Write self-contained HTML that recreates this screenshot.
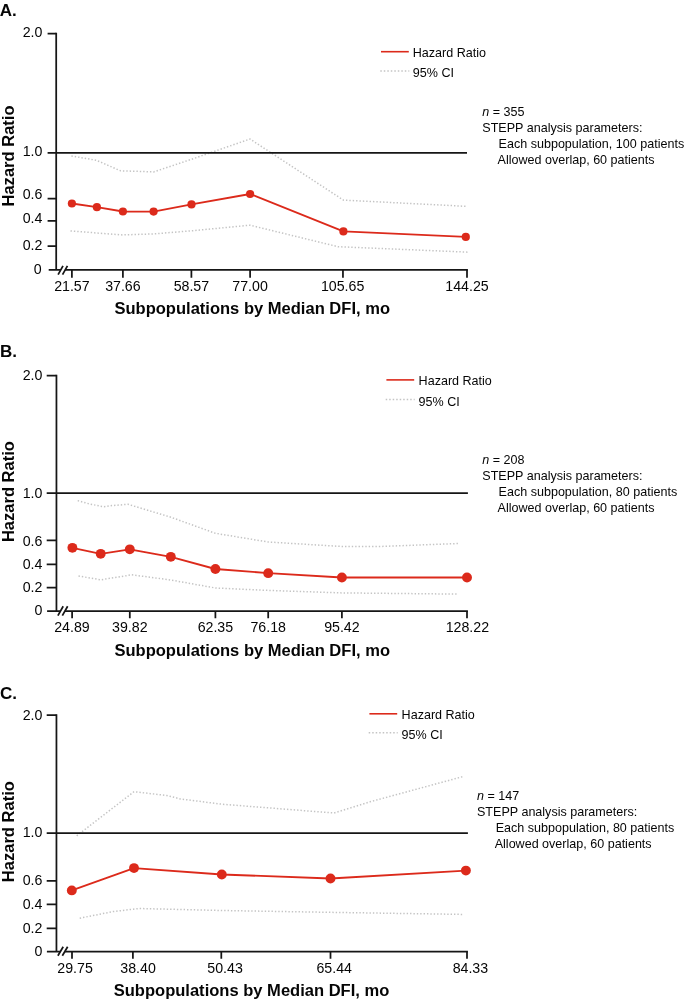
<!DOCTYPE html>
<html lang="en">
<head>
<meta charset="utf-8">
<title>STEPP analysis of hazard ratio by median DFI</title>
<style>
html,body{margin:0;padding:0;background:#fff;}
svg{display:block;will-change:transform;}
text{font-family:'Liberation Sans', Arial, Helvetica, sans-serif;fill:#050505;}
.tk{font-size:14.2px;}
.tx{font-size:12.55px;}
.tt{font-size:16.55px;font-weight:bold;}
.pl{font-size:17px;font-weight:bold;}
.ax{stroke:#161616;stroke-width:1.75;fill:none;}
.hr{stroke:#dc2a1b;stroke-width:1.85;fill:none;stroke-linejoin:round;}
.ci{stroke:#c4c4c4;stroke-width:1.5;fill:none;stroke-dasharray:1.4 1.98;}
.mk{fill:#dc2a1b;}
</style>
</head>
<body>
<svg width="685" height="1002" viewBox="0 0 685 1002">
<rect width="685" height="1002" fill="#fff"/>
<g>
<text class="pl" x="-0.3" y="15.9">A.</text>
<polyline class="ci" points="71.4,156.0 96.2,160.2 120.5,170.8 153.7,171.9 191.8,159.2 250.0,139.0 343.4,200.1 467.5,206.4"/>
<polyline class="ci" points="70.5,230.9 96.9,233.0 122.7,234.9 153.7,233.9 191.8,230.8 250.0,225.2 338.0,246.7 469.0,252.2"/>
<path class="ax" d="M56.2 32.7V269.9M48.7 269.9H467.9M56.2 152.95H467.0"/>
<text class="tk" text-anchor="end" x="42.4" y="37.3">2.0</text>
<text class="tk" text-anchor="end" x="42.4" y="156.2">1.0</text>
<text class="tk" text-anchor="end" x="42.4" y="198.6">0.6</text>
<text class="tk" text-anchor="end" x="42.4" y="222.9">0.4</text>
<text class="tk" text-anchor="end" x="42.4" y="249.9">0.2</text>
<text class="tk" text-anchor="end" x="41.7" y="274.3">0</text>
<path class="ax" d="M47.6 33.6H56.2M47.6 152.95H56.2M47.6 198.55H56.2M47.6 220.9H56.2M47.6 246.0H56.2"/>
<text class="tk" text-anchor="middle" x="71.9" y="290.7">21.57</text>
<text class="tk" text-anchor="middle" x="122.9" y="290.7">37.66</text>
<text class="tk" text-anchor="middle" x="191.4" y="290.7">58.57</text>
<text class="tk" text-anchor="middle" x="250.1" y="290.7">77.00</text>
<text class="tk" text-anchor="middle" x="342.6" y="290.7">105.65</text>
<text class="tk" text-anchor="middle" x="467.0" y="290.7">144.25</text>
<path class="ax" d="M71.9 269.9v7.9M122.9 269.9v7.9M191.4 269.9v7.9M250.1 269.9v7.9M342.95 269.9v7.9M467.0 269.9v7.9"/>
<path fill="#fff" d="M59.5 271.9l2.4 -4.3h4.5l-2.4 4.3z"/>
<path class="ax" d="M58.1 274.70l4.9 -8.9M62.55 274.70l4.9 -8.9"/>
<polyline class="hr" points="71.9,203.5 96.9,207.2 122.9,211.5 153.6,211.6 191.5,204.4 250.1,194.0 343.4,231.4 465.8,236.9"/>
<circle class="mk" cx="71.9" cy="203.5" r="4.1"/>
<circle class="mk" cx="96.9" cy="207.2" r="4.1"/>
<circle class="mk" cx="122.9" cy="211.5" r="4.1"/>
<circle class="mk" cx="153.6" cy="211.6" r="4.1"/>
<circle class="mk" cx="191.5" cy="204.4" r="4.1"/>
<circle class="mk" cx="250.1" cy="194.0" r="4.1"/>
<circle class="mk" cx="343.4" cy="231.4" r="4.1"/>
<circle class="mk" cx="465.8" cy="236.9" r="4.1"/>
<path class="hr" style="stroke-width:1.6" d="M381.0 51.7h27.8"/>
<path class="ci" style="stroke-dasharray:1.5 2" d="M380.3 71.1h29"/>
<text class="tx" x="412.8" y="56.8">Hazard Ratio</text>
<text class="tx" x="412.8" y="77.2">95% CI</text>
<text class="tx" x="482.3" y="116.0"><tspan font-style="italic">n</tspan> = 355</text>
<text class="tx" x="482.3" y="132.0">STEPP analysis parameters:</text>
<text class="tx" x="498.6" y="148.0">Each subpopulation, 100 patients</text>
<text class="tx" x="497.6" y="164.0">Allowed overlap, 60 patients</text>
<text class="tt" text-anchor="middle" transform="translate(252.2 313.8) scale(1 1.05)">Subpopulations by Median DFI, mo</text>
<text class="tt" text-anchor="middle" transform="translate(14.4 156.0) rotate(-90)">Hazard Ratio</text>
</g>
<g>
<text class="pl" x="0.1" y="356.9">B.</text>
<polyline class="ci" points="77.7,500.6 89.6,504.0 104.0,506.8 112.0,505.6 128.0,504.3 170.8,517.2 215.4,533.3 268.2,542.0 341.9,546.5 379.6,546.5 459.0,543.5"/>
<polyline class="ci" points="78.5,576.0 100.8,579.8 131.8,574.8 170.8,580.0 215.4,588.0 268.2,590.4 341.9,592.9 457.8,594.1"/>
<path class="ax" d="M56.45 374.70000000000005V611.1M47.1 611.1H467.9M56.45 493.15H467.9"/>
<text class="tk" text-anchor="end" x="42.4" y="380.2">2.0</text>
<text class="tk" text-anchor="end" x="42.4" y="497.6">1.0</text>
<text class="tk" text-anchor="end" x="42.4" y="546.1">0.6</text>
<text class="tk" text-anchor="end" x="42.4" y="568.6">0.4</text>
<text class="tk" text-anchor="end" x="42.4" y="592.1">0.2</text>
<text class="tk" text-anchor="end" x="42.4" y="615.3">0</text>
<path class="ax" d="M46.7 375.6H56.45M46.7 493.15H56.45M46.7 540.4H56.45M46.7 564.3H56.45M46.7 587.6H56.45"/>
<text class="tk" text-anchor="middle" x="72.0" y="632.0">24.89</text>
<text class="tk" text-anchor="middle" x="129.8" y="632.0">39.82</text>
<text class="tk" text-anchor="middle" x="215.4" y="632.0">62.35</text>
<text class="tk" text-anchor="middle" x="268.2" y="632.0">76.18</text>
<text class="tk" text-anchor="middle" x="341.9" y="632.0">95.42</text>
<text class="tk" text-anchor="middle" x="467.4" y="632.0">128.22</text>
<path class="ax" d="M72.1 611.1v7.2M129.8 611.1v7.2M215.4 611.1v7.2M268.2 611.1v7.2M341.9 611.1v7.2M467.0 611.1v7.2"/>
<path fill="#fff" d="M59.5 613.1l2.4 -4.3h4.5l-2.4 4.3z"/>
<path class="ax" d="M57.9 615.60l5.3 -9.3M62.35 615.60l5.3 -9.3"/>
<polyline class="hr" points="72.4,547.9 100.7,553.9 129.8,549.4 170.8,556.9 215.4,569.0 268.2,573.1 341.9,577.5 467.0,577.5"/>
<circle class="mk" cx="72.4" cy="547.85" r="4.95"/>
<circle class="mk" cx="100.7" cy="553.85" r="4.95"/>
<circle class="mk" cx="129.8" cy="549.35" r="4.95"/>
<circle class="mk" cx="170.8" cy="556.85" r="4.95"/>
<circle class="mk" cx="215.4" cy="568.95" r="4.95"/>
<circle class="mk" cx="268.2" cy="573.15" r="4.95"/>
<circle class="mk" cx="341.9" cy="577.45" r="4.95"/>
<circle class="mk" cx="467.0" cy="577.45" r="4.95"/>
<path class="hr" style="stroke-width:1.6" d="M386.4 379.9h27.8"/>
<path class="ci" style="stroke-dasharray:1.5 2" d="M385.7 399.4h29"/>
<text class="tx" x="418.6" y="384.6">Hazard Ratio</text>
<text class="tx" x="418.6" y="405.9">95% CI</text>
<text class="tx" x="482.3" y="463.8"><tspan font-style="italic">n</tspan> = 208</text>
<text class="tx" x="482.3" y="479.8">STEPP analysis parameters:</text>
<text class="tx" x="498.6" y="495.8">Each subpopulation, 80 patients</text>
<text class="tx" x="497.6" y="511.8">Allowed overlap, 60 patients</text>
<text class="tt" text-anchor="middle" transform="translate(252.2 656.0) scale(1 1.05)">Subpopulations by Median DFI, mo</text>
<text class="tt" text-anchor="middle" transform="translate(14.4 491.6) rotate(-90)">Hazard Ratio</text>
</g>
<g>
<text class="pl" x="0.1" y="699.0">C.</text>
<polyline class="ci" points="76.7,835.8 134.0,791.7 166.9,795.5 180.3,798.9 221.8,804.2 334.0,813.0 370.0,801.8 462.9,776.6"/>
<polyline class="ci" points="79.7,918.2 113.0,911.6 139.0,908.5 221.8,910.5 334.0,912.4 462.2,914.4"/>
<path class="ax" d="M56.45 714.3000000000001V951.55M46.9 951.55H467.9M56.45 833.05H467.9"/>
<text class="tk" text-anchor="end" x="42.4" y="720.0">2.0</text>
<text class="tk" text-anchor="end" x="42.4" y="837.2">1.0</text>
<text class="tk" text-anchor="end" x="42.4" y="885.2">0.6</text>
<text class="tk" text-anchor="end" x="42.4" y="908.8">0.4</text>
<text class="tk" text-anchor="end" x="42.4" y="932.7">0.2</text>
<text class="tk" text-anchor="end" x="42.4" y="955.7">0</text>
<path class="ax" d="M46.7 715.2H56.45M46.7 833.05H56.45M46.7 880.8H56.45M46.7 904.45H56.45M46.7 928.35H56.45"/>
<text class="tk" text-anchor="middle" x="75.1" y="972.6">29.75</text>
<text class="tk" text-anchor="middle" x="138.1" y="972.6">38.40</text>
<text class="tk" text-anchor="middle" x="225.1" y="972.6">50.43</text>
<text class="tk" text-anchor="middle" x="334.2" y="972.6">65.44</text>
<text class="tk" text-anchor="middle" x="470.4" y="972.6">84.33</text>
<path class="ax" d="M72.0 951.55v7.2M132.9 951.55v7.2M221.3 951.55v7.2M330.5 951.55v7.2M467.0 951.55v7.2"/>
<path fill="#fff" d="M59.5 953.55l2.4 -4.3h4.5l-2.4 4.3z"/>
<path class="ax" d="M57.9 955.75l5.3 -9.0M62.35 955.75l5.3 -9.0"/>
<polyline class="hr" points="71.8,890.4 134.0,868.1 221.8,874.5 330.5,878.5 465.9,870.6"/>
<circle class="mk" cx="71.8" cy="890.4" r="4.95"/>
<circle class="mk" cx="134.0" cy="868.1" r="4.95"/>
<circle class="mk" cx="221.8" cy="874.5" r="4.95"/>
<circle class="mk" cx="330.5" cy="878.5" r="4.95"/>
<circle class="mk" cx="465.9" cy="870.6" r="4.95"/>
<path class="hr" style="stroke-width:1.6" d="M369.4 713.8h27.8"/>
<path class="ci" style="stroke-dasharray:1.5 2" d="M368.7 732.7h29"/>
<text class="tx" x="401.6" y="718.8">Hazard Ratio</text>
<text class="tx" x="401.6" y="739.2">95% CI</text>
<text class="tx" x="477.0" y="799.8"><tspan font-style="italic">n</tspan> = 147</text>
<text class="tx" x="477.0" y="815.8">STEPP analysis parameters:</text>
<text class="tx" x="495.7" y="831.8">Each subpopulation, 80 patients</text>
<text class="tx" x="494.7" y="847.8">Allowed overlap, 60 patients</text>
<text class="tt" text-anchor="middle" transform="translate(251.5 995.7) scale(1 1.05)">Subpopulations by Median DFI, mo</text>
<text class="tt" text-anchor="middle" transform="translate(14.4 831.65) rotate(-90)">Hazard Ratio</text>
</g>
</svg>
</body>
</html>
